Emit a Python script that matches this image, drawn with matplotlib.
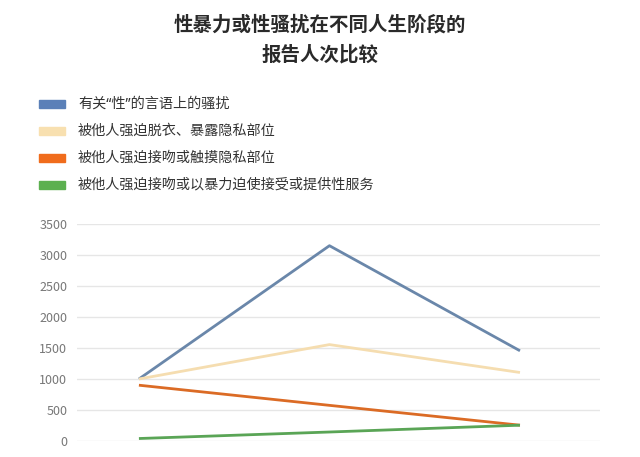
import matplotlib.pyplot as plt
from matplotlib.patches import Rectangle

plt.rcParams['font.family'] = ['Noto Sans CJK SC', 'DejaVu Sans']

# data (3 life stages, x labels cut off in the source)
stages = [0, 1, 2]
verbal = [1000, 3150, 1455]
undress = [1000, 1555, 1105]
touch = [900, 575, 255]
forced = [40, 145, 255]

series_names = ['有关“性”的言语上的骚扰',
                '被他人强迫脱衣、暴露隐私部位',
                '被他人强迫接吻或触摸隐私部位',
                '被他人强迫接吻或以暴力迫使接受或提供性服务']
patch_colors = ['#5b80b8', '#f8e0b0', '#f06c1c', '#5cb050']
line_colors = ['#6a87aa', '#f5ddb0', '#db6b25', '#5aa556']

fig = plt.figure(figsize=(6.4, 4.57), dpi=100)

# title
fig.text(0.5, 1 - 25 / 457, '性暴力或性骚扰在不同人生阶段的', ha='center', va='center',
         fontsize=14, fontweight='bold', color='#2a2a2a')
fig.text(0.5, 1 - 55 / 457, '报告人次比较', ha='center', va='center',
         fontsize=14, fontweight='bold', color='#2a2a2a')

# legend drawn by hand
leg_y = [104, 131, 158, 185]
for name, c, y in zip(series_names, patch_colors, leg_y):
    fy = 1 - y / 457
    fig.patches.append(Rectangle((39 / 640, fy - 4 / 457), 26 / 640, 8 / 457,
                                 transform=fig.transFigure, color=c))
    fig.text(78 / 640, fy, name, ha='left', va='center', fontsize=10.2,
             color='#333333', family=['Noto Sans', 'Noto Sans CJK SC'])

# main axes
ax = fig.add_axes([77 / 640, 1 - 441 / 457, 523 / 640, 217 / 457])
for vals, c in zip([verbal, undress, touch, forced], line_colors):
    ax.plot(stages, vals, color=c, linewidth=2, clip_on=False, solid_capstyle='butt')

ax.set_ylim(0, 3500)
ax.set_xlim(-0.325, 2.42)
ax.set_yticks(range(0, 3501, 500))
ax.set_xticks([])
ax.grid(axis='y', color='#e6e6e6', linewidth=1)
ax.set_axisbelow(True)
for s in ax.spines.values():
    s.set_visible(False)
ax.tick_params(axis='y', length=0, labelsize=9, labelcolor='#777777', pad=7)

fig.savefig('out.png', dpi=100)
